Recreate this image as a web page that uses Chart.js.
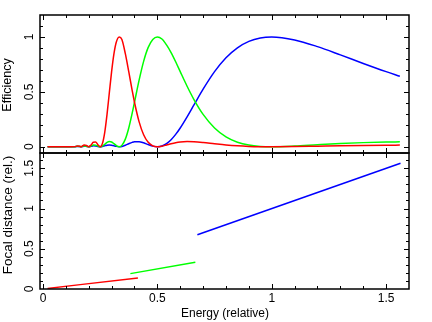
<!DOCTYPE html>
<html>
<head>
<meta charset="utf-8">
<script src="https://cdn.jsdelivr.net/npm/chart.js@4"></script>
<style>
  html, body { margin: 0; padding: 0; background: #fff; }
  #wrap { position: relative; width: 432px; height: 322px; }
  canvas { position: absolute; left: 0; }
  #top { top: 0; }
  #bottom { top: 150px; }
</style>
</head>
<body>
<div id="wrap">
  <canvas id="top" width="432" height="160"></canvas>
  <canvas id="bottom" width="432" height="172"></canvas>
</div>
<script>
// energy samples (relative) for the efficiency curves
const energy = [0.02, 0.05, 0.1, 0.125, 0.14, 0.15, 0.16, 0.1667, 0.18, 0.19, 0.2,
  0.21, 0.22, 0.23, 0.24, 0.25, 0.26, 0.27, 0.28, 0.29, 0.3, 0.31, 0.32, 0.3333,
  0.345, 0.36, 0.375, 0.39, 0.4, 0.42, 0.44, 0.46, 0.48, 0.5, 0.52, 0.54, 0.56,
  0.58, 0.6, 0.63, 0.66, 0.7, 0.75, 0.8, 0.85, 0.9, 0.95, 1.0, 1.1, 1.2, 1.3,
  1.4, 1.5, 1.56];

// efficiency, blue curve (peak at 1)
const effBlue = [0, 0, 0, 0, 0.0005, 0.0024, 0.0018, 0, 0.0047, 0.0030, 0,
  0.0033, 0.0079, 0.0071, 0.0025, 0, 0.0027, 0.0089, 0.0146, 0.0165, 0.0140, 0.0087, 0.0033, 0,
  0.0028, 0.0132, 0.0274, 0.0398, 0.0450, 0.0460, 0.0357, 0.0199, 0.0058, 0, 0.0068, 0.0280, 0.0638,
  0.1124, 0.1710, 0.2723, 0.3808, 0.5243, 0.6839, 0.8106, 0.9015, 0.9601, 0.9912, 1, 0.9730, 0.9119, 0.8366,
  0.7587, 0.6839, 0.6416];

// efficiency, green curve (peak at 0.5)
const effGreen = [0, 0, 0, 0, 0.0007, 0.0035, 0.0028, 0, 0.0078, 0.0052, 0,
  0.0061, 0.0153, 0.0145, 0.0054, 0, 0.0064, 0.0224, 0.0390, 0.0470, 0.0427, 0.0286, 0.0117, 0,
  0.0124, 0.0692, 0.1710, 0.3057, 0.4053, 0.6049, 0.7780, 0.9048, 0.9775, 1, 0.9812, 0.9275, 0.8577,
  0.7741, 0.6839, 0.5513, 0.4301, 0.2950, 0.1710, 0.0901, 0.0414, 0.0150, 0.0031, 0, 0.0068, 0.0186, 0.0294,
  0.0375, 0.0427, 0.0448];

// efficiency, red curve (peak at 1/3)
const effRed = [0, 0, 0, 0, 0.0011, 0.0057, 0.0048, 0, 0.0150, 0.0107, 0,
  0.0151, 0.0416, 0.0440, 0.0186, 0, 0.0306, 0.1316, 0.2950, 0.4909, 0.6839, 0.8432, 0.9496, 1,
  0.9766, 0.8478, 0.6839, 0.5119, 0.4053, 0.2291, 0.1094, 0.0401, 0.0081, 0, 0.0050, 0.0154, 0.0267,
  0.0362, 0.0427, 0.0471, 0.0459, 0.0390, 0.0274, 0.0165, 0.0084, 0.0033, 0.0007, 0, 0.0018, 0.0054, 0.0090,
  0.0119, 0.0140, 0.0149];

// focal distance segments
const focalEnergyRed = [0.02, 0.415];
const focalRed = [0.007, 0.138];
const focalEnergyGreen = [0.382, 0.666];
const focalGreen = [0.191, 0.333];
const focalEnergyBlue = [0.675, 1.563];
const focalBlue = [0.675, 1.563];

// tick labels
const xTicks = [0, 0.5, 1, 1.5];
const xTickLabels = ['0', '0.5', '1', '1.5'];
const effTicks = [0, 0.5, 1];
const effTickLabels = ['0', '0.5', '1'];
const focalTicks = [0, 0.5, 1, 1.5];
const focalTickLabels = ['0', '0.5', '1', '1.5'];

const FAMILY = '"Liberation Sans", Arial, Helvetica, sans-serif';
const FONT = '12px ' + FAMILY;

function toPoints(xs, ys) {
  return xs.map((x, i) => ({ x: x, y: ys[i] }));
}

function line(ctx, x1, y1, x2, y2) {
  ctx.beginPath();
  ctx.moveTo(x1, y1);
  ctx.lineTo(x2, y2);
  ctx.stroke();
}

// frame, inward ticks and labels, all placed through the chart scales
const framePlugin = {
  id: 'frame',
  afterDraw(chart, args, opts) {
    const ctx = chart.ctx;
    const a = chart.chartArea;
    const sx = chart.scales.x;
    const sy = chart.scales.y;
    ctx.save();
    ctx.strokeStyle = '#000';
    ctx.lineWidth = 1;

    // x ticks, every 0.1, major every 0.5
    for (let i = 0; i <= 16; i++) {
      const px = Math.round(sx.getPixelForValue(i / 10)) + 0.5;
      if (px <= a.left + 1 || px >= a.right - 1) continue;
      const len = i % 5 === 0 ? 5 : 3;
      line(ctx, px, a.top, px, a.top + len);
      line(ctx, px, a.bottom, px, a.bottom - len);
    }
    // y ticks
    for (let i = 0; i <= opts.yMinorCount; i++) {
      const py = Math.round(sy.getPixelForValue(i / 10)) + 0.5;
      if (py <= a.top + 1 || py >= a.bottom - 1) continue;
      const len = i % 5 === 0 ? 5 : 3;
      line(ctx, a.left, py, a.left + len, py);
      line(ctx, a.right, py, a.right - len, py);
    }

    // frame
    ctx.lineWidth = 1.5;
    ctx.strokeRect(a.left, a.top, a.right - a.left, a.bottom - a.top);

    ctx.fillStyle = '#000';
    ctx.font = FONT;
    ctx.textAlign = 'center';
    ctx.textBaseline = 'middle';

    // y tick labels, rotated
    opts.yTicks.forEach((v, i) => {
      const py = sy.getPixelForValue(v);
      ctx.save();
      ctx.translate(30, py);
      ctx.rotate(-Math.PI / 2);
      ctx.fillText(opts.yTickLabels[i], 0, 0);
      ctx.restore();
    });

    // y title
    ctx.save();
    ctx.font = opts.yTitleSize + 'px ' + FAMILY;
    ctx.translate(8, (a.top + a.bottom) / 2 + opts.yTitleShift);
    ctx.rotate(-Math.PI / 2);
    ctx.fillText(opts.yTitle, 0, 0);
    ctx.restore();

    // x labels on the lower panel only
    if (opts.xLabels) {
      xTicks.forEach((v, i) => {
        ctx.fillText(xTickLabels[i], sx.getPixelForValue(v), a.bottom + 10);
      });
      ctx.fillText('Energy (relative)', (a.left + a.right) / 2 + 0.5, a.bottom + 25);
    }
    ctx.restore();
  }
};

function lineSet(data, color) {
  return {
    data: data,
    borderColor: color,
    borderWidth: 1.5,
    pointRadius: 0,
    fill: false,
    cubicInterpolationMode: 'monotone'
  };
}

const xScale = { type: 'linear', display: false, min: -0.013, max: 1.6 };

new Chart(document.getElementById('top').getContext('2d'), {
  type: 'line',
  data: {
    datasets: [
      lineSet(toPoints(energy, effRed), '#ff0000'),
      lineSet(toPoints(energy, effGreen), '#00ff00'),
      lineSet(toPoints(energy, effBlue), '#0000ff')
    ]
  },
  options: {
    responsive: false,
    animation: false,
    layout: { padding: { left: 40, right: 23, top: 15, bottom: 7 } },
    scales: {
      x: xScale,
      y: { type: 'linear', display: false, min: -0.057, max: 1.2 }
    },
    plugins: {
      legend: { display: false },
      tooltip: { enabled: false },
      frame: { yTicks: effTicks, yTickLabels: effTickLabels, yMinorCount: 12,
        yTitle: 'Efficiency', yTitleSize: 12.5, yTitleShift: 1, xLabels: false }
    }
  },
  plugins: [framePlugin]
});

new Chart(document.getElementById('bottom').getContext('2d'), {
  type: 'line',
  data: {
    datasets: [
      lineSet(toPoints(focalEnergyRed, focalRed), '#ff0000'),
      lineSet(toPoints(focalEnergyGreen, focalGreen), '#00ff00'),
      lineSet(toPoints(focalEnergyBlue, focalBlue), '#0000ff')
    ]
  },
  options: {
    responsive: false,
    animation: false,
    layout: { padding: { left: 40, right: 23, top: 3, bottom: 33 } },
    scales: {
      x: xScale,
      y: { type: 'linear', display: false, min: 0, max: 1.69 }
    },
    plugins: {
      legend: { display: false },
      tooltip: { enabled: false },
      frame: { yTicks: focalTicks, yTickLabels: focalTickLabels, yMinorCount: 16,
        yTitle: 'Focal distance (rel.)', yTitleSize: 13.5, yTitleShift: -6, xLabels: true }
    }
  },
  plugins: [framePlugin]
});
</script>
</body>
</html>
